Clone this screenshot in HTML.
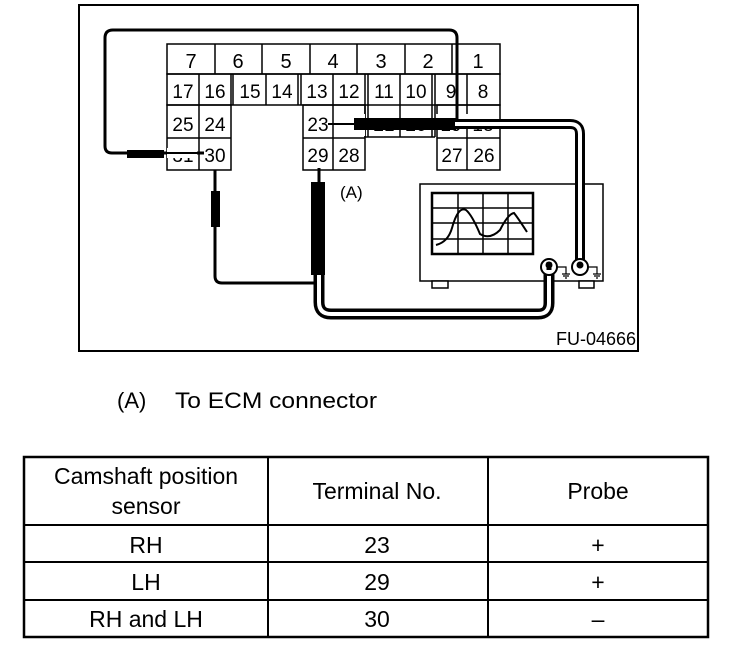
<!DOCTYPE html>
<html><head><style>
html,body{margin:0;padding:0;background:#fff;}
svg{display:block;}
text{font-family:"Liberation Sans",Arial,sans-serif;fill:#000;}
</style></head><body>
<svg width="736" height="650" viewBox="0 0 736 650" xmlns="http://www.w3.org/2000/svg">
<rect x="79" y="5" width="559" height="346" fill="none" stroke="#000" stroke-width="2"/>
<!-- scope -->
<rect x="420" y="184" width="183" height="97" fill="#fff" stroke="#000" stroke-width="1.5"/>
<rect x="432" y="193" width="101" height="61" fill="none" stroke="#000" stroke-width="2.5"/>
<g stroke="#000" stroke-width="1.5">
<line x1="458" y1="193" x2="458" y2="254"/><line x1="483" y1="193" x2="483" y2="254"/><line x1="508" y1="193" x2="508" y2="254"/>
<line x1="432" y1="208" x2="533" y2="208"/><line x1="432" y1="223" x2="533" y2="223"/><line x1="432" y1="239" x2="533" y2="239"/>
</g>
<path d="M436 245 Q448 242 452 228 Q458 206 466 210 Q472 215 480 234 Q490 240 500 230 Q508 214 514 213 Q518 218 527 232" fill="none" stroke="#000" stroke-width="2"/>
<rect x="432" y="281" width="16" height="7" fill="#fff" stroke="#000" stroke-width="1.5"/>
<rect x="579" y="281" width="15" height="7" fill="#fff" stroke="#000" stroke-width="1.5"/>
<!-- connector -->
<g fill="none" stroke="#000" stroke-width="1.5">
<rect x="167" y="44" width="333" height="30"/>
<line x1="215" y1="44" x2="215" y2="74"/><line x1="262" y1="44" x2="262" y2="74"/>
<line x1="310" y1="44" x2="310" y2="74"/><line x1="357" y1="44" x2="357" y2="74"/>
<line x1="405" y1="44" x2="405" y2="74"/><line x1="452" y1="44" x2="452" y2="74"/>
<rect x="167" y="74" width="333" height="31"/>
<line x1="199" y1="74" x2="199" y2="105"/><line x1="231" y1="74" x2="231" y2="105"/><line x1="233" y1="74" x2="233" y2="105"/>
<line x1="266" y1="74" x2="266" y2="105"/><line x1="298" y1="74" x2="298" y2="105"/><line x1="301" y1="74" x2="301" y2="105"/>
<line x1="333" y1="74" x2="333" y2="105"/><line x1="365" y1="74" x2="365" y2="137"/><line x1="368" y1="74" x2="368" y2="137"/>
<line x1="400" y1="74" x2="400" y2="137"/><line x1="432" y1="74" x2="432" y2="137"/><line x1="435" y1="74" x2="435" y2="137"/>
<line x1="467" y1="74" x2="467" y2="170"/>
<rect x="167" y="105" width="64" height="65"/><line x1="199" y1="105" x2="199" y2="170"/><line x1="167" y1="138" x2="231" y2="138"/>
<rect x="303" y="105" width="62" height="65"/><line x1="333" y1="105" x2="333" y2="170"/><line x1="303" y1="138" x2="365" y2="138"/>
<line x1="365" y1="137" x2="435" y2="137"/>
<rect x="437" y="105" width="63" height="65"/><line x1="437" y1="138" x2="500" y2="138"/>
</g>
<g font-size="20" text-anchor="middle">
<text x="191" y="68">7</text><text x="238" y="68">6</text><text x="286" y="68">5</text><text x="333" y="68">4</text><text x="381" y="68">3</text><text x="428" y="68">2</text><text x="478" y="68">1</text>
<g font-size="19">
<text x="183" y="98">17</text><text x="215" y="98">16</text><text x="250" y="98">15</text><text x="282" y="98">14</text><text x="317" y="98">13</text><text x="349" y="98">12</text><text x="384" y="98">11</text><text x="416" y="98">10</text><text x="451" y="98">9</text><text x="483" y="98">8</text>
<text x="183" y="131">25</text><text x="215" y="131">24</text><text x="318" y="131">23</text><text x="349" y="131">22</text><text x="384" y="131">21</text><text x="416" y="131">20</text><text x="451" y="131">19</text><text x="483" y="131">18</text>
<text x="183" y="162">31</text><text x="215" y="162">30</text><text x="318" y="162">29</text><text x="349" y="162">28</text><text x="452" y="162">27</text><text x="484" y="162">26</text>
</g></g>
<rect x="335" y="114" width="30" height="22" fill="#fff"/>
<rect x="369" y="114" width="30" height="9" fill="#fff"/>
<rect x="401" y="114" width="30" height="9" fill="#fff"/>
<rect x="436" y="114" width="60" height="9" fill="#fff"/>
<line x1="328" y1="124" x2="355" y2="124" stroke="#000" stroke-width="2"/>
<rect x="354" y="118" width="102" height="12" fill="#000"/>
<!-- loop wire -->
<path d="M457 124 V38 Q457 30 449 30 H113 Q105 30 105 38 V146 Q105 153 112 153 H204" fill="none" stroke="#000" stroke-width="3"/>
<rect x="127" y="150" width="37" height="8" fill="#000"/>
<rect x="167" y="148" width="30" height="10" fill="#fff"/>
<line x1="167" y1="153" x2="204" y2="153" stroke="#000" stroke-width="2"/>
<!-- double cable to right probe -->
<path d="M455 124 H570 Q580 124 580 134 V262" fill="none" stroke="#000" stroke-width="10"/>
<path d="M455 124 H570 Q580 124 580 134 V262" fill="none" stroke="#fff" stroke-width="4"/>
<!-- 30 wire -->
<path d="M215 170 V276 Q215 283 222 283 H314" fill="none" stroke="#000" stroke-width="3"/>
<rect x="211" y="191" width="9" height="36" fill="#000"/>
<!-- 29 wire -->
<line x1="319" y1="168" x2="319" y2="184" stroke="#000" stroke-width="3"/>
<path d="M319 274 V302 Q319 314 331 314 H538 Q549 314 549 303 V270" fill="none" stroke="#000" stroke-width="11"/>
<path d="M319 274 V302 Q319 314 331 314 H538 Q549 314 549 303 V270" fill="none" stroke="#fff" stroke-width="4"/>
<rect x="311" y="182" width="14" height="93" fill="#000"/>
<text x="340" y="198" font-size="17">(A)</text>
<circle cx="549" cy="267" r="8" fill="#fff" stroke="#000" stroke-width="2"/>
<circle cx="580" cy="267" r="8" fill="#fff" stroke="#000" stroke-width="2"/>
<line x1="549" y1="270" x2="549" y2="262" stroke="#000" stroke-width="5"/>
<circle cx="549" cy="265" r="3.5" fill="#000"/>
<circle cx="580" cy="265" r="3.5" fill="#000"/>
<g stroke="#000" stroke-width="1.2" fill="none">
<path d="M557 267 H566 V274 M562 274 H570 M563 276 H569 M565 278 H567"/>
<path d="M588 267 H597 V274 M593 274 H601 M594 276 H600 M596 278 H598"/>
</g>
<text x="636" y="345" font-size="18" text-anchor="end">FU-04666</text>
<text x="117" y="408" font-size="22">(A)</text>
<text x="175" y="408" font-size="22" textLength="202" lengthAdjust="spacingAndGlyphs">To ECM connector</text>
<g fill="none" stroke="#000">
<rect x="24" y="457" width="684" height="180" stroke-width="2.5"/>
<line x1="268" y1="457" x2="268" y2="637" stroke-width="2"/>
<line x1="488" y1="457" x2="488" y2="637" stroke-width="2"/>
<line x1="24" y1="525" x2="708" y2="525" stroke-width="2"/>
<line x1="24" y1="562" x2="708" y2="562" stroke-width="2"/>
<line x1="24" y1="600" x2="708" y2="600" stroke-width="2"/>
</g>
<g font-size="23" text-anchor="middle">
<text x="146" y="484">Camshaft position</text>
<text x="146" y="514">sensor</text>
<text x="377" y="499">Terminal No.</text>
<text x="598" y="499">Probe</text>
<text x="146" y="553">RH</text><text x="377" y="553">23</text><text x="598" y="553">+</text>
<text x="146" y="590">LH</text><text x="377" y="590">29</text><text x="598" y="590">+</text>
<text x="146" y="627">RH and LH</text><text x="377" y="627">30</text><text x="598" y="627">–</text>
</g>
</svg>
</body></html>
